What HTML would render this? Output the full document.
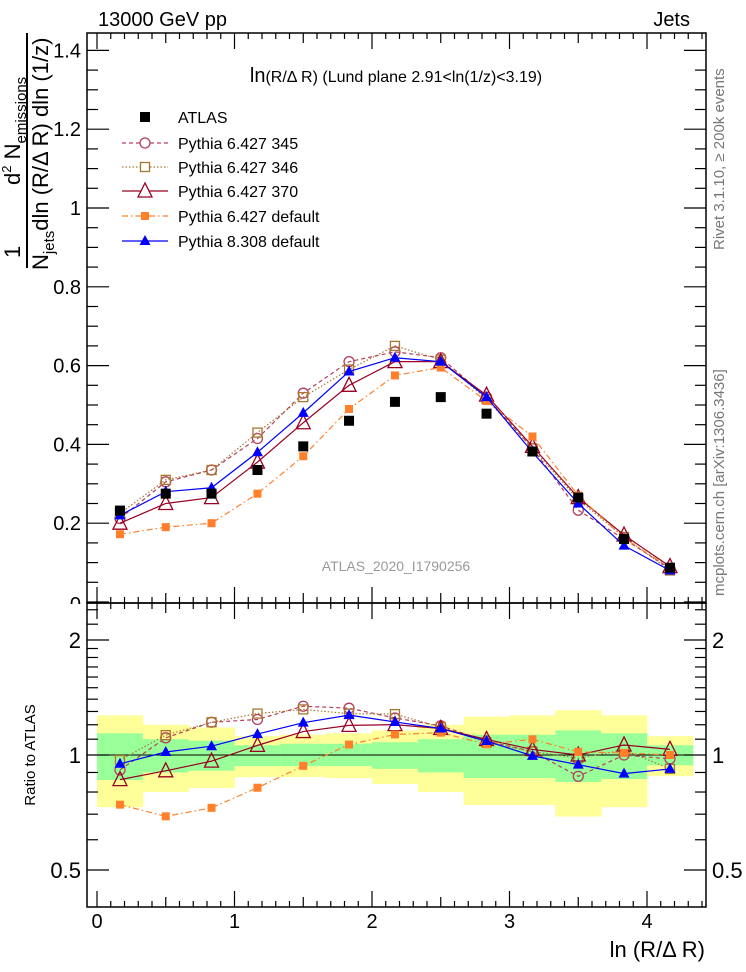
<!DOCTYPE html>
<html><head><meta charset="utf-8"><style>
html,body{margin:0;padding:0;background:#fff;}
svg{display:block;font-family:"Liberation Sans",sans-serif;}
</style></head><body>
<svg id="chart" width="746" height="972" viewBox="0 0 746 972" xmlns="http://www.w3.org/2000/svg">
<text x="81" y="611" font-size="20" text-anchor="end">0</text>
<rect x="60" y="604" width="30" height="20" fill="#fff"/>
<g id="bands"></g>
<g id="frames"></g>
<g id="marks"></g>
<text x="98" y="26" font-size="20">13000 GeV pp</text>
<text x="690" y="26" font-size="20" text-anchor="end">Jets</text>
<text x="396" y="82" font-size="16" text-anchor="middle"><tspan font-size="20">ln</tspan>(R/Δ R) (Lund plane 2.91&lt;ln(1/z)&lt;3.19)</text>
<text x="396" y="571" font-size="14" fill="#999" text-anchor="middle">ATLAS_2020_I1790256</text>
<g transform="rotate(-90)">
<text x="-185" y="20" font-size="22">d<tspan font-size="13" dy="-9">2</tspan><tspan dy="9"> N</tspan><tspan font-size="15" dy="6">emissions</tspan></text>
<text x="-258" y="20" font-size="22">1</text>
<line x1="-268" y1="27" x2="-33" y2="27" stroke="#000" stroke-width="2"/>
<text x="-270" y="48" font-size="22">N<tspan font-size="15" dy="6">jets</tspan><tspan dy="-6">dln (R/Δ R) dln (1/z)</tspan></text>
</g>
<text transform="translate(35,755) rotate(-90)" font-size="15" text-anchor="middle">Ratio to ATLAS</text>
<text x="705" y="957" font-size="22" text-anchor="end">ln (R/Δ R)</text>
<text transform="translate(724,250) rotate(-90)" font-size="15" fill="#777">Rivet 3.1.10, ≥ 200k events</text>
<text transform="translate(724,596) rotate(-90)" font-size="15" fill="#777">mcplots.cern.ch [arXiv:1306.3436]</text>
<g id="legend"></g>
</svg>
<script>
const binCenters=[0.167,0.5,0.833,1.167,1.5,1.833,2.167,2.5,2.833,3.167,3.5,3.833,4.167];
const binHalf=0.1667;
const atlas=[0.232,0.275,0.275,0.335,0.395,0.46,0.508,0.52,0.478,0.382,0.265,0.16,0.087];
const p345=[0.212,0.305,0.335,0.415,0.53,0.61,0.635,0.62,0.52,0.39,0.233,0.16,0.085];
const p346=[0.225,0.31,0.335,0.43,0.52,0.59,0.65,0.615,0.515,0.39,0.26,0.165,0.08];
const p370=[0.2,0.25,0.265,0.355,0.455,0.55,0.61,0.61,0.525,0.395,0.265,0.17,0.09];
const p6def=[0.172,0.19,0.2,0.275,0.37,0.49,0.575,0.595,0.51,0.42,0.27,0.162,0.087];
const p8def=[0.22,0.28,0.29,0.38,0.48,0.585,0.62,0.61,0.52,0.38,0.25,0.143,0.08];
const yellowUp=[1.27,1.2,1.18,1.12,1.13,1.14,1.16,1.2,1.26,1.27,1.31,1.27,1.12];
const yellowDn=[0.73,0.8,0.82,0.875,0.875,0.87,0.84,0.8,0.74,0.74,0.69,0.73,0.88];
const greenUp=[1.14,1.1,1.09,1.06,1.07,1.07,1.08,1.1,1.13,1.13,1.16,1.14,1.06];
const greenDn=[0.86,0.9,0.91,0.935,0.935,0.935,0.92,0.9,0.87,0.87,0.85,0.865,0.94];
const upperTicks=[0.2,0.4,0.6,0.8,1,1.2,1.4];
const ratioTicks=[0.5,1,2];
const xTicks=[0,1,2,3,4];

const NS="http://www.w3.org/2000/svg";
const L=87,R=706,T=33,M=603,B=907;
const X=v=>97+v*137.5;
const YU=v=>602-v*394;
const YR=v=>755-115*Math.log2(v);
function mk(tag,attrs,parent){const e=document.createElementNS(NS,tag);for(const k in attrs)e.setAttribute(k,attrs[k]);parent.appendChild(e);return e;}
const bands=document.getElementById('bands'),frames=document.getElementById('frames'),marks=document.getElementById('marks'),legend=document.getElementById('legend');

binCenters.forEach((c,i)=>{
  const y=mk('rect',{x:X(c-binHalf),y:YR(yellowUp[i]),width:X(c+binHalf)-X(c-binHalf)+0.5,height:YR(yellowDn[i])-YR(yellowUp[i]),fill:'#ffff99'},bands);
  
  
  const g=mk('rect',{x:X(c-binHalf),y:YR(greenUp[i]),width:X(c+binHalf)-X(c-binHalf)+0.5,height:YR(greenDn[i])-YR(greenUp[i]),fill:'#99ff99'},bands);
  
  
});
mk('line',{x1:L,x2:R,y1:YR(1),y2:YR(1),stroke:'#000','stroke-width':1},bands);

mk('rect',{x:L,y:T,width:R-L,height:M-T,fill:'none',stroke:'#000','stroke-width':1.5},frames);
mk('rect',{x:L,y:M,width:R-L,height:B-M,fill:'none',stroke:'#000','stroke-width':1.5},frames);
for(let k=0;k<=44;k++){const v=k/10;const x=X(v);if(x>R)break;
  const len=(k%10===0)?16:(k%5===0?10:6);
  [[T,1],[M,-1],[M,1],[B,-1]].forEach(([y0,d])=>mk('line',{x1:x,x2:x,y1:y0,y2:y0+d*len,stroke:'#000','stroke-width':1.2},frames));
}
xTicks.forEach(v=>{const t=mk('text',{x:X(v),y:928,'font-size':20,'text-anchor':'middle'},frames);t.textContent=v;
  
  });
for(let k=0;k<=29;k++){const v=k*0.05;const y=YU(v);if(y<T)break;const len=(k%4===0)?22:11;
  mk('line',{x1:L,x2:L+len,y1:y,y2:y,stroke:'#000','stroke-width':1.2},frames);
  mk('line',{x1:R,x2:R-len,y1:y,y2:y,stroke:'#000','stroke-width':1.2},frames);}
upperTicks.forEach(v=>{const t=mk('text',{x:81,y:YU(v)+7,'font-size':20,'text-anchor':'end'},frames);t.textContent=(v===1?'1':v.toFixed(1));
  
  });
const rminor=[0.4,0.6,0.7,0.8,0.9,1.1,1.2,1.3,1.4,1.5,1.6,1.7,1.8,1.9,2.2,2.4];
rminor.forEach(v=>{const y=YR(v);if(y<M||y>B)return;
  mk('line',{x1:L,x2:L+11,y1:y,y2:y,stroke:'#000','stroke-width':1.2},frames);
  mk('line',{x1:R,x2:R-11,y1:y,y2:y,stroke:'#000','stroke-width':1.2},frames);});
ratioTicks.forEach(v=>{const y=YR(v);
  mk('line',{x1:L,x2:L+22,y1:y,y2:y,stroke:'#000','stroke-width':1.2},frames);
  mk('line',{x1:R,x2:R-22,y1:y,y2:y,stroke:'#000','stroke-width':1.2},frames);
  const t=mk('text',{x:81,y:y+8,'font-size':22,'text-anchor':'end'},frames);t.textContent=v;
  
  
  const t2=mk('text',{x:712,y:y+8,'font-size':22},frames);t2.textContent=v;
  
  });

function marker(type,color,x,y,parent){
  if(type==='sq')return mk('rect',{x:x-5,y:y-5,width:10,height:10,fill:color},parent);
  if(type==='osq')return mk('rect',{x:x-4.5,y:y-4.5,width:9,height:9,fill:'none',stroke:color,'stroke-width':1.3},parent);
  if(type==='oc')return mk('circle',{cx:x,cy:y,r:5,fill:'none',stroke:color,'stroke-width':1.3},parent);
  if(type==='otri')return mk('polygon',{points:`${x},${y-8} ${x-7},${y+6} ${x+7},${y+6}`,fill:'none',stroke:color,'stroke-width':1.3},parent);
  if(type==='tri')return mk('polygon',{points:`${x},${y-6} ${x-5.5},${y+4} ${x+5.5},${y+4}`,fill:color},parent);
  if(type==='ssq')return mk('rect',{x:x-4,y:y-4,width:8,height:8,fill:color},parent);
}
const series=[
  {name:'pythia-6427-345',label:'Pythia 6.427 345',data:p345,color:'#b5405e',dash:'4,3',m:'oc'},
  {name:'pythia-6427-346',label:'Pythia 6.427 346',data:p346,color:'#a8772e',dash:'1.5,2',m:'osq'},
  {name:'pythia-6427-370',label:'Pythia 6.427 370',data:p370,color:'#990022',dash:'',m:'otri'},
  {name:'pythia-6427-default',label:'Pythia 6.427 default',data:p6def,color:'#ff7f2a',dash:'6,3,1.5,3',m:'ssq'},
  {name:'pythia-8308-default',label:'Pythia 8.308 default',data:p8def,color:'#0000ff',dash:'',m:'tri'}
];
series.forEach(s=>{
  const g=mk('g',{},marks);
  
  
  const up=binCenters.map((c,i)=>X(c)+','+YU(s.data[i])).join(' ');
  mk('polyline',{points:up,fill:'none',stroke:s.color,'stroke-width':1.2,'stroke-dasharray':s.dash},g);
  const rp=binCenters.map((c,i)=>X(c)+','+YR(s.data[i]/atlas[i])).join(' ');
  mk('polyline',{points:rp,fill:'none',stroke:s.color,'stroke-width':1.2,'stroke-dasharray':s.dash},g);
  binCenters.forEach((c,i)=>{
    const a=marker(s.m,s.color,X(c),YU(s.data[i]),g);
    
    
    const b=marker(s.m,s.color,X(c),YR(s.data[i]/atlas[i]),g);
    
    
  });
});
binCenters.forEach((c,i)=>{
  const a=marker('sq','#000',X(c),YU(atlas[i]),marks);
  
  
});
const ly=[117,143,167,191,216,241];
const ent=[{label:'ATLAS',m:'sq',color:'#000',dash:null}].concat(series);
ent.forEach((e,i)=>{
  const g=mk('g',{},legend);
  
  
  if(e.dash!==null&&e.dash!==undefined)mk('line',{x1:122,x2:168,y1:ly[i],y2:ly[i],stroke:e.color,'stroke-width':1.2,'stroke-dasharray':e.dash},g);
  const mm=marker(e.m,e.color,145,ly[i],g);
  if(e.m!=='sq')mm.setAttribute('fill',e.m==='tri'||e.m==='ssq'?e.color:'#fff');
  const t=mk('text',{x:178,y:ly[i]+6,'font-size':16},g);t.textContent=e.label;
});
</script>
</body></html>
